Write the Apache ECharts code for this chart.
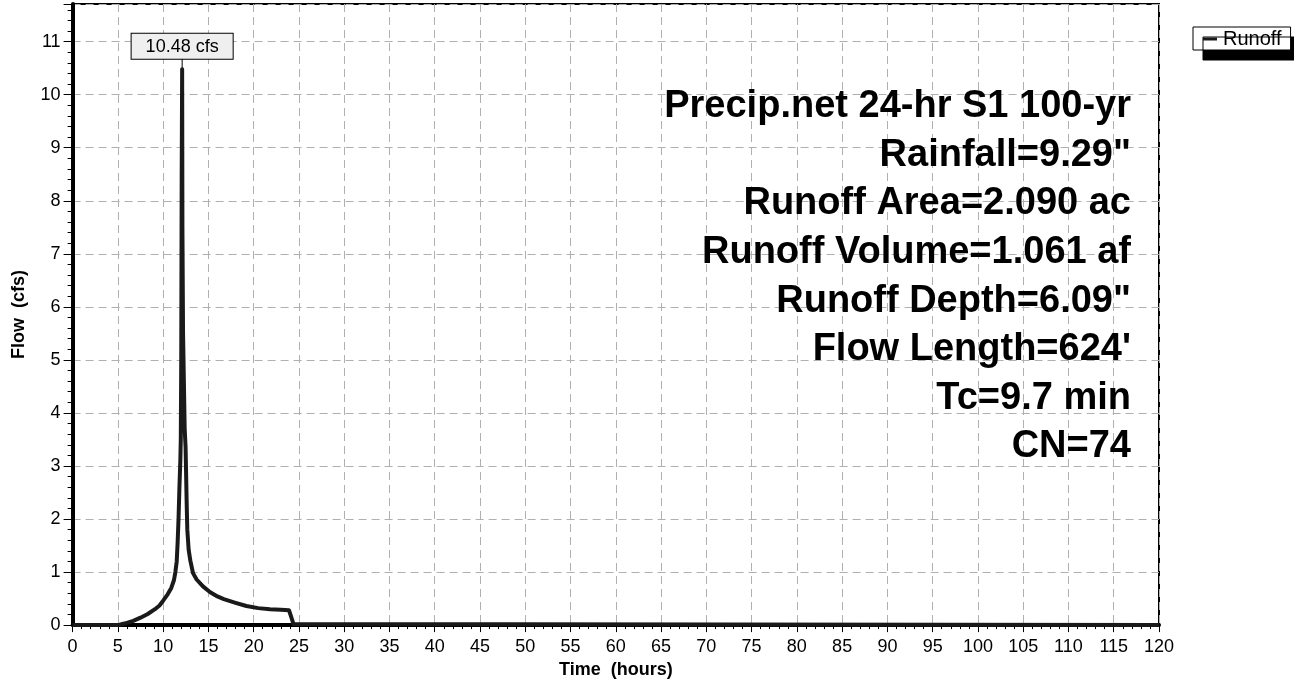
<!DOCTYPE html>
<html>
<head>
<meta charset="utf-8">
<script src="https://cdn.jsdelivr.net/npm/echarts@6/dist/echarts.min.js"></script>
<style>
  html, body { margin: 0; padding: 0; background: #fff; }
  #chart { width: 1294px; height: 684px; }
</style>
</head>
<body>
<div id="chart"></div>
<script>
// ---- data ----
const timeHours = [0, 5.0, 5.5, 6.0, 6.7, 7.5, 8.3, 9.1, 9.6, 10.0, 10.5, 10.9, 11.2, 11.35, 11.5, 11.6, 11.7, 11.8, 11.9, 11.95, 12.0, 12.05, 12.1, 12.13, 12.2, 12.3, 12.38, 12.48, 12.52, 12.6, 12.67, 12.82, 13.0, 13.3, 13.7, 14.4, 15.2, 16.0, 16.7, 18.0, 19.2, 20.5, 21.8, 23.0, 23.9, 24.1, 24.4, 24.6, 120];
const flowCfs   = [0, 0, 0.02, 0.04, 0.08, 0.14, 0.21, 0.30, 0.37, 0.46, 0.58, 0.70, 0.85, 1.0, 1.2, 1.55, 2.0, 2.6, 3.1, 3.5, 5.0, 8.5, 10.48, 7.5, 5.5, 4.5, 3.7, 3.35, 3.0, 2.3, 1.8, 1.42, 1.22, 0.98, 0.86, 0.73, 0.62, 0.54, 0.49, 0.42, 0.36, 0.32, 0.30, 0.29, 0.28, 0.18, 0.02, 0, 0];
const seriesName = 'Runoff';
const xAxisTitle = 'Time  (hours)';
const yAxisTitle = 'Flow  (cfs)';
const peakUnit = 'cfs';
const infoLines = [
  'Precip.net 24-hr S1 100-yr',
  'Rainfall=9.29"',
  'Runoff Area=2.090 ac',
  'Runoff Volume=1.061 af',
  'Runoff Depth=6.09"',
  "Flow Length=624'",
  'Tc=9.7 min',
  'CN=74'
];
const xRange = [0, 120];
const yRange = [0, 11.71];

// ---- chart ----
const FONT = '"Liberation Sans", Arial, Helvetica, sans-serif';
const chart = echarts.init(document.getElementById('chart'), null, { renderer: 'canvas' });

const pts = timeHours.map((t, i) => [t, flowCfs[i]]);
let peakIdx = 0;
flowCfs.forEach((v, i) => { if (v > flowCfs[peakIdx]) peakIdx = i; });

const infoFs = 38;
const infoRight = 1131;
const infoFirstBaseline = 120;
const infoStep = 48.6;
const graphics = infoLines.map((line, i) => ({
  type: 'text',
  silent: true,
  style: {
    text: line,
    x: infoRight,
    y: infoFirstBaseline + i * infoStep - 0.35 * infoFs,
    align: 'right',
    verticalAlign: 'middle',
    font: 'bold ' + infoFs + 'px ' + FONT,
    fill: '#000'
  },
  z: 50
}));

const gridLine = { show: true, lineStyle: { color: '#b0b0b0', width: 1, type: [8, 5] } };

chart.setOption({
  animation: false,
  backgroundColor: '#fff',
  textStyle: { fontFamily: FONT },
  grid: {
    left: 72.6, right: 135, top: 4, bottom: 58,
    show: true, borderColor: '#000', borderWidth: 2, backgroundColor: 'transparent',
    containLabel: false
  },
  legend: {
    data: [seriesName],
    left: 1193, top: 27,
    orient: 'horizontal',
    backgroundColor: '#fff',
    borderColor: '#000', borderWidth: 1,
    shadowColor: '#000', shadowBlur: 0, shadowOffsetX: 10, shadowOffsetY: 10,
    padding: [2, 9, 1, 10],
    itemWidth: 14, itemHeight: 3, itemGap: 6,
    icon: 'rect',
    textStyle: { fontFamily: FONT, fontSize: 20, color: '#000', padding: [0, 0, 0, 1] },
    selectedMode: false
  },
  xAxis: {
    type: 'value', min: xRange[0], max: xRange[1], interval: 5,
    name: xAxisTitle, nameLocation: 'middle', nameGap: 35,
    nameTextStyle: { fontFamily: FONT, fontSize: 18, fontWeight: 'bold', color: '#000' },
    axisLine: { show: true, onZero: false, lineStyle: { color: '#000', width: 4 } },
    axisTick: { show: true, length: 7, lineStyle: { color: '#000', width: 1 } },
    minorTick: { show: true, splitNumber: 5, length: 4, lineStyle: { color: '#000', width: 1 } },
    axisLabel: { fontFamily: FONT, fontSize: 18, color: '#000', margin: 13 },
    splitLine: gridLine
  },
  yAxis: {
    type: 'value', min: yRange[0], max: yRange[1], interval: 1,
    name: yAxisTitle, nameLocation: 'middle', nameGap: 45, nameRotate: 90,
    nameTextStyle: { fontFamily: FONT, fontSize: 18, fontWeight: 'bold', color: '#000' },
    axisLine: { show: true, onZero: false, lineStyle: { color: '#000', width: 4 } },
    axisTick: { show: true, length: 9, lineStyle: { color: '#000', width: 1 } },
    minorTick: { show: true, splitNumber: 5, length: 5, lineStyle: { color: '#000', width: 1 } },
    axisLabel: {
      fontFamily: FONT, fontSize: 18, color: '#000', margin: 12,
      showMaxLabel: false,
      formatter: v => (Math.abs(v - Math.round(v)) < 1e-6 ? String(Math.round(v)) : '')
    },
    splitLine: gridLine
  },
  graphic: graphics,
  series: [{
    name: seriesName,
    type: 'line',
    data: pts,
    showSymbol: false,
    symbol: 'none',
    clip: false,
    color: '#1a1a1a',
    lineStyle: { color: '#1a1a1a', width: 4, join: 'round' },
    z: 5,
    markPoint: {
      symbol: 'rect',
      symbolSize: [1, 10],
      symbolOffset: [0, -5.5],
      itemStyle: { color: '#000' },
      silent: true,
      data: [{
        coord: pts[peakIdx],
        value: flowCfs[peakIdx],
        label: {
          show: true,
          position: 'top',
          distance: 0,
          formatter: flowCfs[peakIdx].toFixed(2) + ' ' + peakUnit,
          fontFamily: FONT, fontSize: 18, color: '#000',
          backgroundColor: '#efefef',
          borderColor: '#000', borderWidth: 1,
          padding: [4, 14, 3, 14]
        }
      }]
    }
  }]
});
</script>
</body>
</html>
